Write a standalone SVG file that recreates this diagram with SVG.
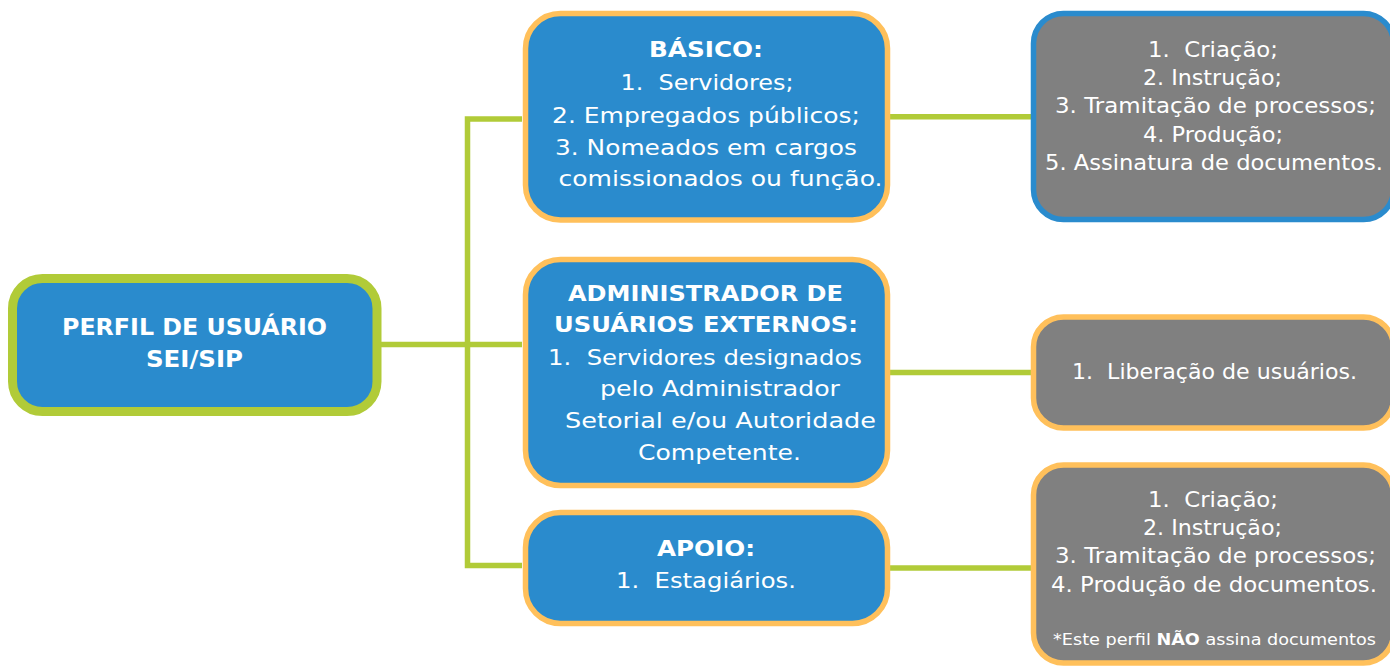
<svg xmlns="http://www.w3.org/2000/svg" width="1390" height="668" viewBox="0 0 1390 668">
<style>
.box{fill:#2A8BCD;}
.gray{fill:#808080;}
.og{stroke:#FFC05B;stroke-width:5.5;}
.bl{stroke:#2A8BCD;stroke-width:5.5;}
.gr{stroke:#B1CB38;stroke-width:9;}
.conn{fill:none;stroke:#B1CB38;stroke-width:5.5;}
text{font-family:"DejaVu Sans","Liberation Sans",sans-serif;fill:#FFFFFF;text-anchor:middle;font-size:20.5px;}
.b{font-weight:bold;font-size:21px;}
.rt{font-weight:bold;font-size:23.5px;}
.small{font-size:15.5px;}
.sb{font-weight:bold;}
</style>
<rect width="1390" height="668" fill="#FFFFFF"/>
<g id="connectors">
<path class="conn" d="M377 344.5 H522"/>
<path class="conn" d="M522 119 H467.5 V565.5 H522"/>
<path class="conn" d="M888 116.7 H1031"/>
<path class="conn" d="M888 372.5 H1031"/>
<path class="conn" d="M888 568 H1031"/>
</g>
<g id="root">
<rect class="box gr" x="12.5" y="278.5" width="364.5" height="133" rx="30"/>
<text class="rt" x="194.5" y="335" textLength="265" lengthAdjust="spacingAndGlyphs">PERFIL DE USUÁRIO</text>
<text class="rt" x="194.5" y="367" textLength="97" lengthAdjust="spacingAndGlyphs">SEI/SIP</text>
</g>
<g id="basico">
<rect class="box og" x="525.5" y="13.5" width="362" height="206.5" rx="35"/>
<text class="b" x="706" y="57" textLength="114" lengthAdjust="spacingAndGlyphs">BÁSICO:</text>
<text x="707" y="90" textLength="173" lengthAdjust="spacingAndGlyphs">1.&#160; Servidores;</text>
<text x="706" y="123" textLength="308" lengthAdjust="spacingAndGlyphs">2. Empregados públicos;</text>
<text x="706" y="155" textLength="302" lengthAdjust="spacingAndGlyphs">3. Nomeados em cargos</text>
<text x="720.5" y="186" textLength="324" lengthAdjust="spacingAndGlyphs">comissionados ou função.</text>
</g>
<g id="admin">
<rect class="box og" x="525.5" y="259.5" width="362" height="226" rx="35"/>
<text class="b" x="705.5" y="301" textLength="275" lengthAdjust="spacingAndGlyphs">ADMINISTRADOR DE</text>
<text class="b" x="706" y="332" textLength="304" lengthAdjust="spacingAndGlyphs">USUÁRIOS EXTERNOS:</text>
<text x="705" y="365" textLength="314" lengthAdjust="spacingAndGlyphs">1.&#160; Servidores designados</text>
<text x="720" y="396" textLength="240" lengthAdjust="spacingAndGlyphs">pelo Administrador</text>
<text x="720.5" y="428" textLength="311" lengthAdjust="spacingAndGlyphs">Setorial e/ou Autoridade</text>
<text x="719.5" y="460" textLength="163" lengthAdjust="spacingAndGlyphs">Competente.</text>
</g>
<g id="apoio">
<rect class="box og" x="525.5" y="512.5" width="362" height="111" rx="35"/>
<text class="b" x="706" y="556" textLength="98" lengthAdjust="spacingAndGlyphs">APOIO:</text>
<text x="706" y="588" textLength="180" lengthAdjust="spacingAndGlyphs">1.&#160; Estagiários.</text>
</g>
<g id="acoes-basico">
<rect class="gray bl" x="1033.5" y="13.5" width="360" height="206" rx="30"/>
<text x="1213" y="57" textLength="130" lengthAdjust="spacingAndGlyphs">1.&#160; Criação;</text>
<text x="1212.5" y="85" textLength="139" lengthAdjust="spacingAndGlyphs">2. Instrução;</text>
<text x="1215.5" y="113" textLength="321" lengthAdjust="spacingAndGlyphs">3. Tramitação de processos;</text>
<text x="1213" y="142" textLength="140" lengthAdjust="spacingAndGlyphs">4. Produção;</text>
<text x="1214" y="170" textLength="338" lengthAdjust="spacingAndGlyphs">5. Assinatura de documentos.</text>
</g>
<g id="acoes-admin">
<rect class="gray og" x="1033.5" y="317" width="360" height="111" rx="30"/>
<text x="1214.5" y="379" textLength="285" lengthAdjust="spacingAndGlyphs">1.&#160; Liberação de usuários.</text>
</g>
<g id="acoes-apoio">
<rect class="gray og" x="1033.5" y="465" width="360" height="198" rx="30"/>
<text x="1213" y="507" textLength="130" lengthAdjust="spacingAndGlyphs">1.&#160; Criação;</text>
<text x="1212.5" y="535" textLength="139" lengthAdjust="spacingAndGlyphs">2. Instrução;</text>
<text x="1215.5" y="563" textLength="321" lengthAdjust="spacingAndGlyphs">3. Tramitação de processos;</text>
<text x="1214" y="592" textLength="326" lengthAdjust="spacingAndGlyphs">4. Produção de documentos.</text>
<text class="small" x="1214.5" y="645" textLength="323" lengthAdjust="spacingAndGlyphs">*Este perfil <tspan class="sb">NÃO</tspan> assina documentos</text>
</g>
</svg>
